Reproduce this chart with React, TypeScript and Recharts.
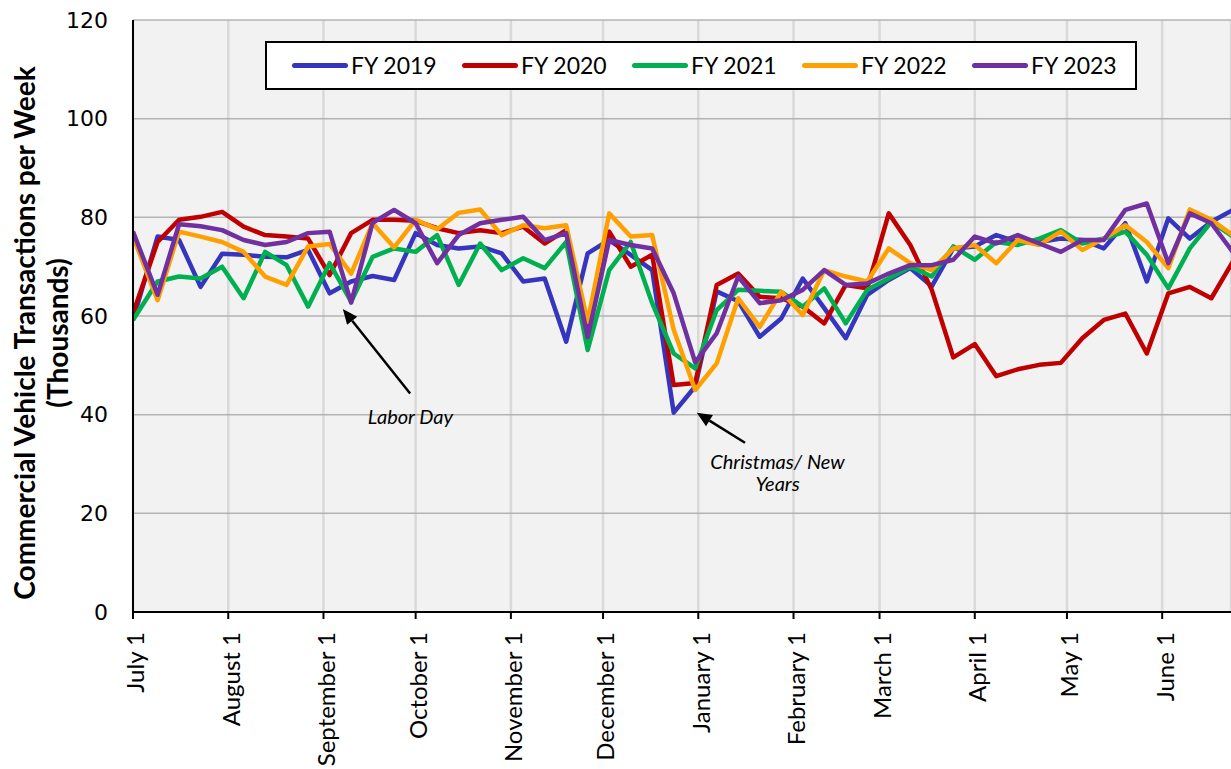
import { LineChart, Line, XAxis, YAxis, CartesianGrid, ReferenceLine, ReferenceDot } from 'recharts'

// days since July 1 for each weekly point
const weekDays = [
  0, 8, 15, 22, 29, 36, 43, 50, 57, 64, 71, 78, 85, 92, 99, 106, 113, 120, 127, 134,
  141, 148, 155, 162, 169, 176, 183, 190, 197, 204, 211, 218, 225, 232, 239, 246, 253, 260, 267, 274,
  281, 288, 295, 302, 309, 316, 323, 330, 337, 344, 351, 358,
]

const monthTicks = [0, 31, 62, 92, 123, 153, 184, 215, 243, 274, 304, 335]
const monthLabels = [
  'July 1', 'August 1', 'September 1', 'October 1', 'November 1', 'December 1',
  'January 1', 'February 1', 'March 1', 'April 1', 'May 1', 'June 1',
]

const valueTicks = [0, 20, 40, 60, 80, 100, 120]

// weekly transactions, thousands
const fy2019 = [
  59.2, 76.1, 75.4, 65.9, 72.6, 72.4, 72.0, 71.9, 73.4, 64.6, 67.0, 68.1, 67.3, 76.8, 74.4, 73.7, 74.1, 72.7, 67.0, 67.6,
  54.8, 72.7, 75.4, 72.4, 69.3, 40.4, 45.7, 65.0, 63.0, 55.8, 59.5, 67.6, 61.6, 55.5, 64.3, 67.3, 69.7, 66.0, 73.7, 74.1,
  76.4, 75.0, 75.0, 75.7, 75.4, 73.7, 78.8, 67.0, 79.8, 75.7, 79.1, 81.5,
]
const fy2020 = [
  60.5, 75.0, 79.5, 80.1, 81.1, 78.1, 76.4, 76.1, 75.7, 68.3, 76.8, 79.5, 79.5, 79.3, 77.8, 76.8, 77.4, 76.8, 78.1, 74.7,
  77.4, 57.0, 77.1, 70.0, 72.4, 46.0, 46.4, 66.3, 68.6, 63.9, 63.6, 61.9, 58.5, 66.3, 65.6, 80.8, 74.4, 65.3, 51.6, 54.3,
  47.8, 49.2, 50.1, 50.5, 55.5, 59.2, 60.5, 52.4, 64.6, 65.9, 63.6, 71.0,
]
const fy2021 = [
  59.2, 67.0, 68.0, 67.6, 70.0, 63.6, 73.0, 70.3, 61.9, 70.7, 62.9, 72.0, 73.7, 73.0, 76.4, 66.3, 74.7, 69.3, 71.7, 69.7,
  75.0, 53.1, 69.3, 75.0, 62.6, 52.4, 49.4, 61.2, 65.3, 65.1, 64.9, 61.9, 65.6, 58.5, 65.3, 67.6, 70.0, 68.0, 74.1, 71.4,
  75.0, 74.4, 75.7, 77.4, 74.7, 75.7, 77.1, 72.4, 65.6, 73.7, 79.1, 76.1,
]
const fy2022 = [
  76.1, 63.2, 77.1, 76.1, 75.0, 73.0, 68.0, 66.3, 74.1, 74.6, 68.6, 78.8, 73.9, 79.5, 77.6, 80.9, 81.6, 76.4, 78.4, 77.8,
  78.4, 58.8, 80.8, 76.1, 76.4, 57.2, 45.0, 50.4, 63.6, 57.8, 64.9, 60.2, 69.3, 68.0, 67.0, 73.7, 70.7, 69.3, 73.7, 74.4,
  70.7, 75.4, 74.4, 77.1, 73.4, 75.7, 78.4, 75.0, 69.7, 81.6, 79.5, 76.4,
]
const fy2023 = [
  77.1, 64.3, 78.6, 78.2, 77.4, 75.4, 74.4, 75.0, 76.8, 77.1, 62.7, 78.9, 81.5, 78.8, 70.7, 76.4, 78.8, 79.5, 80.1, 75.4,
  76.8, 55.7, 75.4, 74.4, 73.7, 64.6, 50.6, 56.5, 68.0, 62.6, 63.2, 65.3, 69.3, 66.3, 66.6, 68.6, 70.3, 70.3, 71.4, 76.1,
  74.7, 76.4, 74.7, 73.0, 75.4, 75.4, 81.5, 82.8, 70.7, 80.8, 78.8, 73.0,
]

const seriesNames = ['FY 2019', 'FY 2020', 'FY 2021', 'FY 2022', 'FY 2023']
const seriesKeys = ['fy2019', 'fy2020', 'fy2021', 'fy2022', 'fy2023']
const seriesColors = ['#3535bd', '#c00000', '#00b050', '#ffa000', '#7030a0']

const data = weekDays.map((day, i) => ({
  day,
  fy2019: fy2019[i],
  fy2020: fy2020[i],
  fy2021: fy2021[i],
  fy2022: fy2022[i],
  fy2023: fy2023[i],
}))

const calibriLike = 'Lato, "Open Sans", sans-serif'

const MonthTick = (props: any) => {
  const { x, y, payload } = props
  const label = monthLabels[monthTicks.indexOf(payload.value)]
  return (
    <text
      transform={`translate(${x + 3},${y + 11}) rotate(-90)`}
      textAnchor="end"
      dy="0.35em"
      fontFamily={calibriLike}
      fontSize={24}
      fill="#000"
    >
      {label}
    </text>
  )
}

const ArrowShape = (props: any) => {
  const { x1, y1, x2, y2 } = props
  const ang = Math.atan2(y2 - y1, x2 - x1)
  const len = 15
  const half = 6.5
  const bx = x2 - len * Math.cos(ang)
  const by = y2 - len * Math.sin(ang)
  const px = -Math.sin(ang) * half
  const py = Math.cos(ang) * half
  return (
    <g>
      <line x1={x1} y1={y1} x2={bx} y2={by} stroke="#000" strokeWidth={2.5} />
      <polygon points={`${x2},${y2} ${bx + px},${by + py} ${bx - px},${by - py}`} fill="#000" />
    </g>
  )
}

const noteText = (text: string) => (props: any) => (
  <text
    x={props.cx}
    y={props.cy}
    textAnchor="middle"
    dy="0.35em"
    fontFamily={calibriLike}
    fontStyle="italic"
    fontSize={20}
    fill="#000"
  >
    {text}
  </text>
)

const YTitle = () => (
  <g fontFamily={calibriLike} fontWeight="bold" fontSize={28} fill="#000">
    <text transform="translate(25,333) rotate(-90)" textAnchor="middle" dy="0.35em">
      Commercial Vehicle Transactions per Week
    </text>
    <text transform="translate(58,333) rotate(-90)" textAnchor="middle" dy="0.35em">
      (Thousands)
    </text>
  </g>
)

export default function App() {
  return (
    <div style={{ position: 'relative', width: 1231, height: 769, background: '#fff' }}>
      <style>{'html,body{margin:0;padding:0;overflow:hidden;background:#fff}'}</style>
      <LineChart width={1231} height={769} data={data} margin={{ top: 20, right: 0, left: 0, bottom: 0 }}>
        <CartesianGrid fill="#f2f2f2" horizontal={false} stroke="#d9d9d9" strokeWidth={2.5} />
        <CartesianGrid vertical={false} stroke="#b3b3b3" strokeWidth={1.5} />
        <XAxis
          type="number"
          dataKey="day"
          domain={[0, 357.4]}
          allowDataOverflow
          ticks={monthTicks}
          interval={0}
          height={157}
          axisLine={{ stroke: '#000', strokeWidth: 2 }}
          tickLine={{ stroke: '#000', strokeWidth: 2 }}
          tickSize={7}
          tickMargin={2}
          tick={<MonthTick />}
        />
        <YAxis
          type="number"
          domain={[0, 120]}
          ticks={valueTicks}
          width={133}
          axisLine={{ stroke: '#000', strokeWidth: 2 }}
          tickLine={false}
          tickSize={0}
          tickMargin={25}
          tick={{ fill: '#000', fontSize: 22, fontFamily: 'DejaVu Sans' }}
          label={{ content: () => <YTitle /> }}
        />
        {seriesKeys.map((key, i) => (
          <Line
            key={key}
            type="linear"
            dataKey={key}
            name={seriesNames[i]}
            stroke={seriesColors[i]}
            strokeWidth={4.5}
            strokeLinejoin="round"
            dot={false}
            activeDot={false}
            isAnimationActive={false}
          />
        ))}
        <ReferenceLine segment={[{ x: 90.2, y: 44.3 }, { x: 68.3, y: 61.4 }]} shape={ArrowShape} ifOverflow="visible" />
        <ReferenceDot x={90.3} y={39.6} r={0} shape={noteText('Labor Day')} ifOverflow="visible" />
        <ReferenceLine segment={[{ x: 199.2, y: 34.3 }, { x: 183.5, y: 40.4 }]} shape={ArrowShape} ifOverflow="visible" />
        <ReferenceDot x={209.8} y={30.5} r={0} shape={noteText('Christmas/ New')} ifOverflow="visible" />
        <ReferenceDot x={209.8} y={25.9} r={0} shape={noteText('Years')} ifOverflow="visible" />
      </LineChart>
      <div
        style={{
          position: 'absolute',
          left: 265,
          top: 41,
          width: 872,
          height: 49,
          boxSizing: 'border-box',
          border: '2px solid #000',
          background: '#fff',
          fontFamily: calibriLike,
        }}
      >
        {seriesNames.map((name, i) => (
          <div key={name} style={{ position: 'absolute', left: 25 + i * 170, top: 0, height: 45, display: 'flex', alignItems: 'center' }}>
            <div style={{ width: 56, height: 5, borderRadius: 3, background: seriesColors[i] }} />
            <span style={{ marginLeft: 3, fontSize: 23, color: '#000', lineHeight: 1 }}>{name}</span>
          </div>
        ))}
      </div>
    </div>
  )
}
